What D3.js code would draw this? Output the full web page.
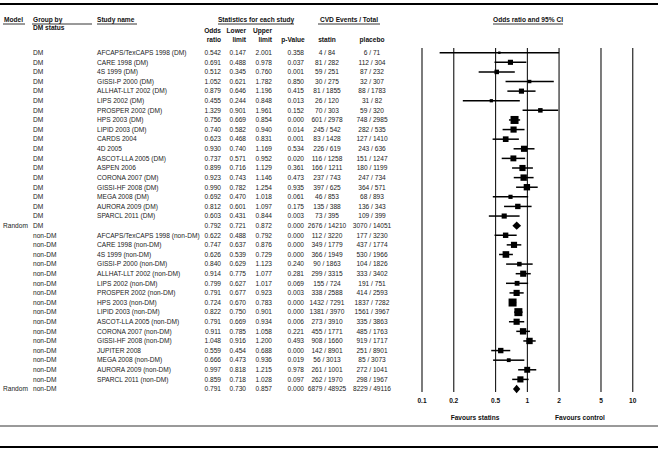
<!DOCTYPE html>
<html><head><meta charset="utf-8">
<script src="https://cdn.jsdelivr.net/npm/d3@7"></script>
<style>
body{margin:0;background:#fff;}
svg{display:block;}
text{font-family:"Liberation Sans",Arial,Helvetica,sans-serif;}
</style></head>
<body><svg id="c" width="666" height="453"></svg>
<script>
// ---- data ----
const models = ["","","","","","","","","","","","","","","","","","","Random",
  "","","","","","","","","","","","","","","","","Random"];
const groups = ["DM","DM","DM","DM","DM","DM","DM","DM","DM","DM","DM","DM","DM","DM","DM","DM","DM","DM","DM",
  "non-DM","non-DM","non-DM","non-DM","non-DM","non-DM","non-DM","non-DM","non-DM","non-DM","non-DM","non-DM","non-DM","non-DM","non-DM","non-DM","non-DM"];
const studies = ["AFCAPS/TexCAPS 1998 (DM)","CARE 1998 (DM)","4S 1999 (DM)","GISSI-P 2000 (DM)","ALLHAT-LLT 2002 (DM)","LIPS 2002 (DM)","PROSPER 2002 (DM)","HPS 2003 (DM)","LIPID 2003 (DM)","CARDS 2004","4D 2005","ASCOT-LLA 2005 (DM)","ASPEN 2006","CORONA 2007 (DM)","GISSI-HF 2008 (DM)","MEGA 2008 (DM)","AURORA 2009 (DM)","SPARCL 2011 (DM)","",
  "AFCAPS/TexCAPS 1998 (non-DM)","CARE 1998 (non-DM)","4S 1999 (non-DM)","GISSI-P 2000 (non-DM)","ALLHAT-LLT 2002 (non-DM)","LIPS 2002 (non-DM)","PROSPER 2002 (non-DM)","HPS 2003 (non-DM)","LIPID 2003 (non-DM)","ASCOT-LLA 2005 (non-DM)","CORONA 2007 (non-DM)","GISSI-HF 2008 (non-DM)","JUPITER 2008","MEGA 2008 (non-DM)","AURORA 2009 (non-DM)","SPARCL 2011 (non-DM)",""];
const oddsRatio = [0.542,0.691,0.512,1.052,0.879,0.455,1.329,0.756,0.740,0.623,0.930,0.737,0.899,0.923,0.990,0.692,0.812,0.603,0.792,
  0.622,0.747,0.626,0.840,0.914,0.799,0.791,0.724,0.822,0.791,0.911,1.048,0.559,0.666,0.997,0.859,0.791];
const lowerLimit = [0.147,0.488,0.345,0.621,0.646,0.244,0.901,0.669,0.582,0.468,0.740,0.571,0.716,0.743,0.782,0.470,0.601,0.431,0.721,
  0.488,0.637,0.539,0.629,0.775,0.627,0.677,0.670,0.750,0.669,0.785,0.916,0.454,0.473,0.818,0.718,0.730];
const upperLimit = [2.001,0.978,0.760,1.782,1.196,0.848,1.961,0.854,0.940,0.831,1.169,0.952,1.129,1.146,1.254,1.018,1.097,0.844,0.872,
  0.792,0.876,0.729,1.123,1.077,1.017,0.923,0.783,0.901,0.934,1.058,1.200,0.688,0.936,1.215,1.028,0.857];
const pValue = ["0.358","0.037","0.001","0.850","0.415","0.013","0.152","0.000","0.014","0.001","0.534","0.020","0.361","0.473","0.935","0.061","0.175","0.003","0.000",
  "0.000","0.000","0.000","0.240","0.281","0.069","0.003","0.000","0.000","0.006","0.221","0.493","0.000","0.019","0.978","0.097","0.000"];
const statinEvents = ["4 / 84","81 / 282","59 / 251","30 / 275","81 / 1855","26 / 120","70 / 303","601 / 2978","245 / 542","83 / 1428","226 / 619","116 / 1258","166 / 1211","237 / 743","397 / 625","46 / 853","135 / 388","73 / 395","2676 / 14210",
  "112 / 3220","349 / 1779","366 / 1949","90 / 1863","299 / 3315","155 / 724","338 / 2588","1432 / 7291","1381 / 3970","273 / 3910","455 / 1771","908 / 1660","142 / 8901","56 / 3013","261 / 1001","262 / 1970","6879 / 48925"];
const placeboEvents = ["6 / 71","112 / 304","87 / 232","32 / 307","88 / 1783","31 / 82","59 / 320","748 / 2985","282 / 535","127 / 1410","243 / 636","151 / 1247","180 / 1199","247 / 734","364 / 571","68 / 893","136 / 343","109 / 399","3070 / 14051",
  "177 / 3230","437 / 1774","530 / 1966","104 / 1826","333 / 3402","191 / 751","414 / 2593","1837 / 7282","1561 / 3967","335 / 3863","485 / 1763","919 / 1717","251 / 8901","85 / 3073","272 / 1041","298 / 1967","8229 / 49116"];
// relative weights; 0 = summary row
const weights = [1.0,4.5,3.5,2.0,4.5,1.8,3.5,11,6.5,5.5,6.5,6,6.5,7,7,3,5,4.5,0,
  5,6.5,7.5,3.5,6.5,4,6.5,11,11,6.5,7,7,5,2.5,6,6.5,0];
const ticks = [0.1,0.2,0.5,1,2,5,10];
const tickLabels = ["0.1","0.2","0.5","1","2","5","10"];

// ---- drawing ----
const svg = d3.select("#c");
const n = studies.length;
const y = d3.scaleLinear().domain([0, n-1]).range([52.7, 389]);
const x = d3.scaleLog().domain([0.1, 10]).range([422, 632.7]);
const box = d3.scaleSqrt().domain([0, 11]).range([0, 8]);
const FS = 6.6;

function txt(xp, yp, s, anchor, bold){
  return svg.append("text").attr("x", xp).attr("y", yp).attr("font-size", FS)
    .attr("text-anchor", anchor||"start").attr("font-weight", bold?"bold":"normal")
    .attr("fill", bold?"#111":"#222").text(s);
}
function hline(x1, x2, yp, w){
  svg.append("line").attr("x1", x1).attr("x2", x2).attr("y1", yp).attr("y2", yp)
    .attr("stroke", "#000").attr("stroke-width", w||0.8);
}

// top rule
hline(0, 658, 4, 2.2);

// headers
txt(4, 22.3, "Model", "start", true); hline(3, 25, 24);
txt(33, 22.3, "Group by", "start", true); hline(32, 92, 24);
txt(33, 29.8, "DM status", "start", true);
txt(97, 22.3, "Study name", "start", true); hline(97, 137, 24);
txt(256, 22.3, "Statistics for each study", "middle", true); hline(218, 294, 24);
txt(349, 22.3, "CVD Events / Total", "middle", true); hline(318, 380, 24);
txt(528, 22.3, "Odds ratio and 95% CI", "middle", true); hline(493, 563, 24);

txt(221, 33, "Odds", "end", true); txt(221, 42.3, "ratio", "end", true);
txt(246, 33, "Lower", "end", true); txt(246, 42.3, "limit", "end", true);
txt(272, 33, "Upper", "end", true); txt(272, 42.3, "limit", "end", true);
txt(293, 42.3, "p-Value", "middle", true);
txt(327, 42.3, "statin", "middle", true);
txt(372, 42.3, "placebo", "middle", true);

// rows text
for(let i=0;i<n;i++){
  const yy = y(i) + 2.3;
  if(models[i]) txt(3, yy, models[i]);
  txt(33, yy, groups[i]);
  if(studies[i]) txt(97, yy, studies[i]);
  txt(221, yy, oddsRatio[i].toFixed(3), "end");
  txt(246, yy, lowerLimit[i].toFixed(3), "end");
  txt(272, yy, upperLimit[i].toFixed(3), "end");
  txt(304, yy, pValue[i], "end");
  txt(327, yy, statinEvents[i], "middle");
  txt(372, yy, placeboEvents[i], "middle");
}

// grid lines
const gTop = 48, gBot = 392;
ticks.forEach(t=>{
  const strong = (t===0.5 || t===1);
  svg.append("line").attr("x1", x(t)).attr("x2", x(t)).attr("y1", gTop).attr("y2", gBot)
    .attr("stroke", strong?"#000":"#444").attr("stroke-width", strong?1:1.4);
});

// axis labels
ticks.forEach((t,k)=>{
  svg.append("text").attr("x", x(t)).attr("y", 403.3).attr("font-size", FS)
    .attr("text-anchor","middle").attr("font-weight","bold").attr("fill","#111").text(tickLabels[k]);
});
txt(475, 419.5, "Favours statins", "middle", true);
txt(580, 419.5, "Favours control", "middle", true);

// CIs and boxes
for(let i=0;i<n;i++){
  const yy = y(i);
  if(weights[i] > 0){
    svg.append("line").attr("x1", x(lowerLimit[i])).attr("x2", x(upperLimit[i]))
      .attr("y1", yy).attr("y2", yy).attr("stroke", "#000").attr("stroke-width", 1.5);
    const s = box(weights[i]);
    svg.append("rect").attr("x", x(oddsRatio[i]) - s/2).attr("y", yy - s/2)
      .attr("width", s).attr("height", s).attr("fill", "#000");
  } else {
    const xl = x(lowerLimit[i]), xu = x(upperLimit[i]), xm = x(oddsRatio[i]);
    svg.append("path").attr("d", `M${xl},${yy}L${xm},${yy-4.2}L${xu},${yy}L${xm},${yy+4.2}Z`)
      .attr("fill", "#000");
  }
}

// bottom rules
hline(0, 658, 426, 0.8);
hline(0, 658, 447, 2.2);
</script></body></html>
